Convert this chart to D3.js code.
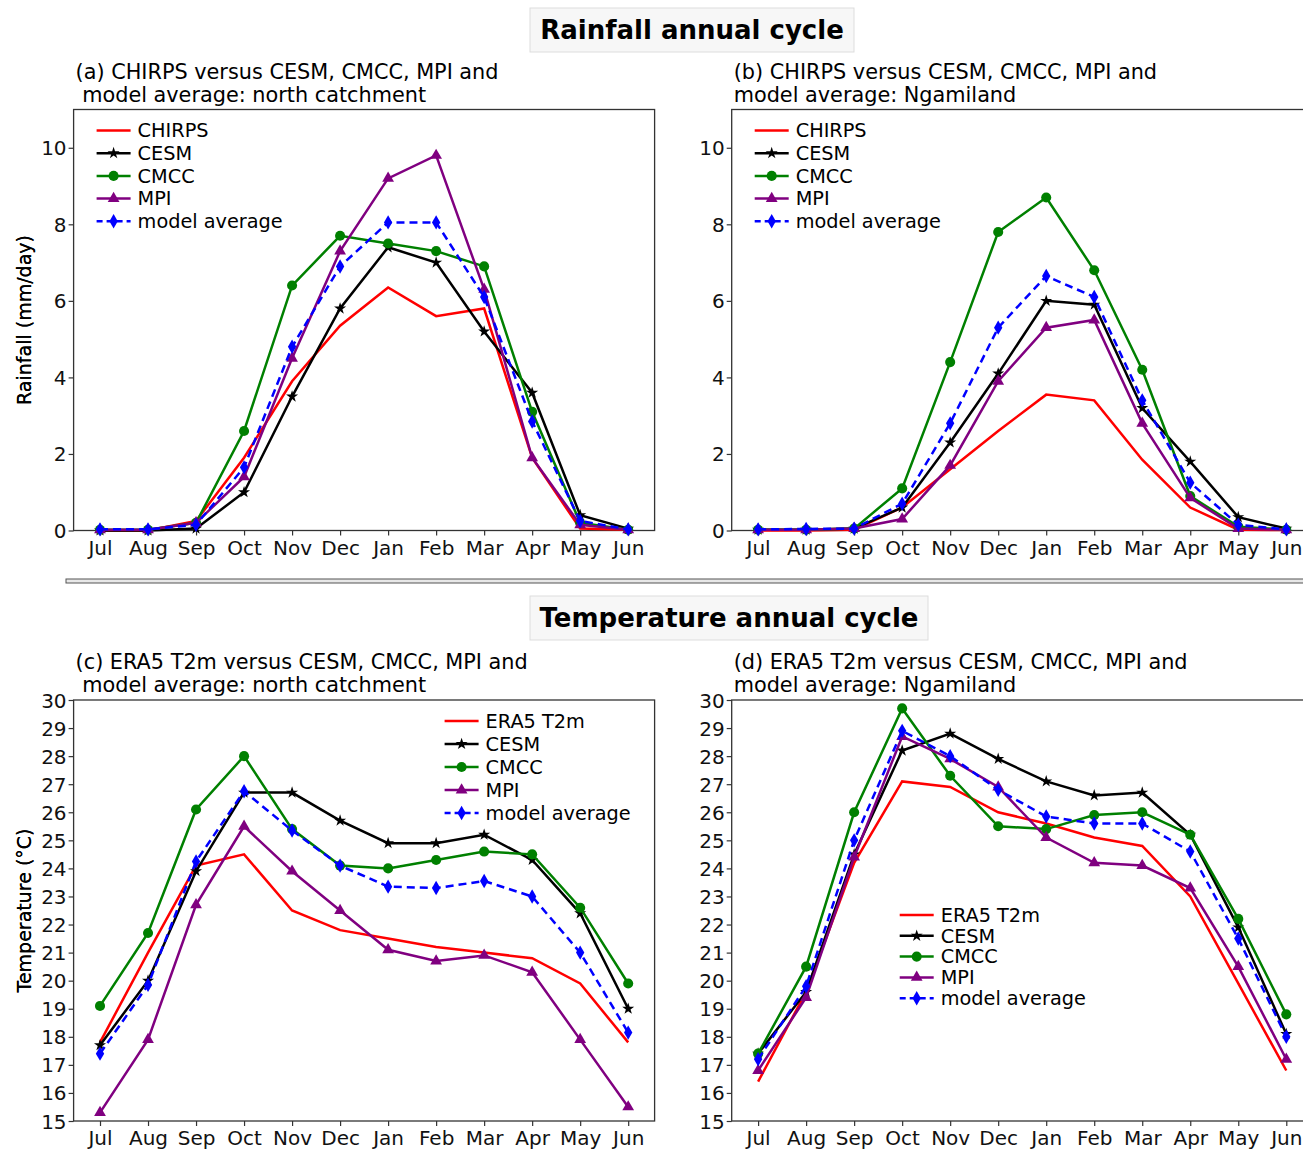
<!DOCTYPE html>
<html>
<head>
<meta charset="utf-8">
<script src="https://cdn.jsdelivr.net/npm/d3@7"></script>
<style>
  body { margin: 0; background: #fff; overflow: hidden; }
  svg { font-family: "DejaVu Sans", sans-serif; display: block; }
</style>
</head>
<body>
<div class="canvas"></div>
<script>
/////////////////////////////////
//** DATA **//

const months = ['Jul', 'Aug', 'Sep', 'Oct', 'Nov', 'Dec', 'Jan', 'Feb', 'Mar', 'Apr', 'May', 'Jun'];

// (a) rainfall, north catchment (mm/day)
const rainNorthCHIRPS = [0, 0, 0.25, 1.9, 3.9, 5.35, 6.35, 5.6, 5.8, 1.9, 0.05, 0.02];
const rainNorthCESM   = [0, 0, 0.05, 1.0, 3.5, 5.8, 7.4, 7.0, 5.2, 3.6, 0.4, 0.05];
const rainNorthCMCC   = [0.02, 0.02, 0.2, 2.6, 6.4, 7.7, 7.5, 7.3, 6.9, 3.1, 0.2, 0.02];
const rainNorthMPI    = [0.02, 0.02, 0.2, 1.4, 4.5, 7.3, 9.2, 9.8, 6.3, 1.9, 0.15, 0.02];
const rainNorthAvg    = [0.03, 0.03, 0.15, 1.65, 4.8, 6.9, 8.05, 8.05, 6.1, 2.85, 0.25, 0.03];

// (b) rainfall, Ngamiland (mm/day)
const rainNgamCHIRPS = [0, 0, 0.02, 0.6, 1.6, 2.6, 3.55, 3.4, 1.85, 0.6, 0.02, 0.01];
const rainNgamCESM   = [0.02, 0.02, 0.05, 0.6, 2.3, 4.1, 6.0, 5.9, 3.2, 1.8, 0.35, 0.05];
const rainNgamCMCC   = [0.02, 0.02, 0.05, 1.1, 4.4, 7.8, 8.7, 6.8, 4.2, 0.9, 0.1, 0.02];
const rainNgamMPI    = [0.02, 0.02, 0.05, 0.3, 1.7, 3.9, 5.3, 5.5, 2.8, 0.85, 0.05, 0.02];
const rainNgamAvg    = [0.03, 0.04, 0.05, 0.7, 2.8, 5.3, 6.65, 6.1, 3.4, 1.25, 0.15, 0.03];

// (c) temperature, north catchment (°C)
const tempNorthERA5 = [17.8, 21.0, 24.1, 24.5, 22.5, 21.8, 21.5, 21.2, 21.0, 20.8, 19.9, 17.8];
const tempNorthCESM = [17.7, 20.0, 23.9, 26.7, 26.7, 25.7, 24.9, 24.9, 25.2, 24.3, 22.4, 19.0];
const tempNorthCMCC = [19.1, 21.7, 26.1, 28.0, 25.4, 24.1, 24.0, 24.3, 24.6, 24.5, 22.6, 19.9];
const tempNorthMPI  = [15.3, 17.9, 22.7, 25.5, 23.9, 22.5, 21.1, 20.7, 20.9, 20.3, 17.9, 15.5];
const tempNorthAvg  = [17.4, 19.85, 24.25, 26.75, 25.35, 24.1, 23.35, 23.3, 23.55, 23.0, 21.0, 18.15];

// (d) temperature, Ngamiland (°C)
const tempNgamERA5 = [16.4, 19.6, 24.2, 27.1, 26.9, 26.0, 25.6, 25.1, 24.8, 23.0, 19.9, 16.8];
const tempNgamCESM = [17.4, 19.6, 24.5, 28.2, 28.8, 27.9, 27.1, 26.6, 26.7, 25.2, 21.9, 18.1];
const tempNgamCMCC = [17.4, 20.5, 26.0, 29.7, 27.3, 25.5, 25.4, 25.9, 26.0, 25.2, 22.2, 18.8];
const tempNgamMPI  = [16.8, 19.4, 24.4, 28.7, 27.9, 26.9, 25.1, 24.2, 24.1, 23.3, 20.5, 17.2];
const tempNgamAvg  = [17.2, 19.8, 25.0, 28.9, 28.0, 26.8, 25.85, 25.6, 25.6, 24.6, 21.5, 18.0];

const rainTicks = [0, 2, 4, 6, 8, 10];
const tempTicks = d3.range(15, 31, 1);

/////////////////////////////////
//** STYLES **//

const styles = {
    obs:  { colour: '#ff0000', marker: null,             size: 0,  dash: null },
    CESM: { colour: '#000000', marker: d3.symbolStar,    size: 45, dash: null },
    CMCC: { colour: '#008000', marker: d3.symbolCircle,  size: 80, dash: null },
    MPI:  { colour: '#800080', marker: d3.symbolTriangle,size: 60, dash: null },
    avg:  { colour: '#0000ff', marker: d3.symbolDiamond, size: 60, dash: '8,5' }
};

/////////////////////////////////
//** SVG CONTAINER **//

const svg = d3.select('.canvas')
    .append('svg')
    .attr('width', 1303)
    .attr('height', 1150);

// section headers with light boxes
const header = (text, cx, cy, w) => {
    svg.append('rect')
        .attr('x', cx - w / 2).attr('y', cy - 22)
        .attr('width', w).attr('height', 44)
        .attr('fill', '#f7f7f7')
        .attr('stroke', '#dddddd');
    svg.append('text')
        .attr('x', cx).attr('y', cy + 9)
        .attr('text-anchor', 'middle')
        .attr('font-size', 26)
        .attr('font-weight', 'bold')
        .text(text);
};

header('Rainfall annual cycle', 692, 30, 324);
header('Temperature annual cycle', 729, 618, 398);

// separator between rows
svg.append('rect')
    .attr('x', 66).attr('y', 579)
    .attr('width', 1250).attr('height', 4)
    .attr('fill', '#e8e8e8')
    .attr('stroke', '#555')
    .attr('stroke-width', 1);

/////////////////////////////////
//** PANEL **//

const drawPanel = (p) => {
    const w = 581, h = 421;
    const g = svg.append('g')
        .attr('transform', `translate(${p.left}, ${p.top})`);

    const x = d3.scaleLinear().domain([-0.55, 11.55]).range([0, w]);
    const y = d3.scaleLinear().domain(p.ydomain).range([h, 0]);

    // title lines
    svg.append('text')
        .attr('x', p.left + 2).attr('y', p.top - 31)
        .attr('font-size', 20.8)
        .text(p.title[0]);
    svg.append('text')
        .attr('x', p.left + 2).attr('y', p.top - 8)
        .attr('font-size', 20.8)
        .attr('xml:space', 'preserve')
        .text(p.title[1]);

    // axes
    const xAxis = d3.axisBottom(x)
        .tickValues(d3.range(12))
        .tickFormat(i => months[i])
        .tickSizeOuter(0)
        .tickSize(5);
    const yAxis = d3.axisLeft(y)
        .tickValues(p.ticks)
        .tickSizeOuter(0)
        .tickSize(5);

    const gx = g.append('g')
        .attr('transform', `translate(0, ${h})`)
        .call(xAxis);
    const gy = g.append('g').call(yAxis);

    [gx, gy].forEach(a => {
        a.select('.domain').remove();
        a.selectAll('line').attr('stroke', '#333').attr('stroke-width', 1.2);
        a.selectAll('text')
            .attr('font-size', 20)
            .attr('font-family', '"DejaVu Sans", sans-serif')
            .attr('fill', '#111');
    });
    gx.selectAll('text').attr('dy', '0.8em');
    gy.selectAll('text').attr('dy', '0.35em').attr('x', -7);

    // frame
    g.append('rect')
        .attr('width', w).attr('height', h)
        .attr('fill', 'none')
        .attr('stroke', '#333')
        .attr('stroke-width', 1.3);

    // y label
    g.append('text')
        .attr('transform', `translate(${-p.left + 24}, ${h / 2}) rotate(-90)`)
        .attr('text-anchor', 'middle')
        .attr('dy', '0.35em')
        .attr('font-size', 19)
        .text(p.ylabel);

    const line = d3.line()
        .x((d, i) => x(i))
        .y(d => y(d));

    // series lines and markers
    p.series.forEach(s => {
        const st = styles[s.key];
        g.append('path')
            .datum(s.values)
            .attr('d', line)
            .attr('fill', 'none')
            .attr('stroke', st.colour)
            .attr('stroke-width', 2.5)
            .attr('stroke-dasharray', st.dash);

        if (st.marker) {
            g.selectAll(null)
                .data(s.values)
                .enter()
                .append('path')
                .attr('d', d3.symbol(st.marker, st.size))
                .attr('transform', (d, i) => `translate(${x(i)}, ${y(d)})`)
                .attr('fill', st.colour);
        }
    });

    // legend
    const lg = g.append('g')
        .attr('transform', `translate(${p.legend.x}, ${p.legend.y})`);
    p.series.forEach((s, i) => {
        const st = styles[s.key];
        const row = lg.append('g')
            .attr('transform', `translate(0, ${i * p.legend.step})`);
        row.append('line')
            .attr('x1', 0).attr('x2', 34)
            .attr('stroke', st.colour)
            .attr('stroke-width', 2.5)
            .attr('stroke-dasharray', st.dash ? '6,4' : null);
        if (st.marker) {
            row.append('path')
                .attr('d', d3.symbol(st.marker, st.size))
                .attr('transform', 'translate(17, 0)')
                .attr('fill', st.colour);
        }
        row.append('text')
            .attr('x', 41)
            .attr('dy', '0.35em')
            .attr('font-size', 19.3)
            .text(s.label);
    });
};

drawPanel({
    left: 73.6, top: 109.5, ydomain: [0, 11], ticks: rainTicks,
    title: ['(a) CHIRPS versus CESM, CMCC, MPI and', ' model average: north catchment'],
    ylabel: 'Rainfall (mm/day)',
    legend: { x: 23, y: 21, step: 22.7 },
    series: [
        { key: 'obs',  label: 'CHIRPS', values: rainNorthCHIRPS },
        { key: 'CESM', label: 'CESM', values: rainNorthCESM },
        { key: 'CMCC', label: 'CMCC', values: rainNorthCMCC },
        { key: 'MPI',  label: 'MPI', values: rainNorthMPI },
        { key: 'avg',  label: 'model average', values: rainNorthAvg }
    ]
});

drawPanel({
    left: 731.7, top: 109.5, ydomain: [0, 11], ticks: rainTicks,
    title: ['(b) CHIRPS versus CESM, CMCC, MPI and', 'model average: Ngamiland'],
    ylabel: 'Rainfall (mm/day)',
    legend: { x: 23, y: 21, step: 22.7 },
    series: [
        { key: 'obs',  label: 'CHIRPS', values: rainNgamCHIRPS },
        { key: 'CESM', label: 'CESM', values: rainNgamCESM },
        { key: 'CMCC', label: 'CMCC', values: rainNgamCMCC },
        { key: 'MPI',  label: 'MPI', values: rainNgamMPI },
        { key: 'avg',  label: 'model average', values: rainNgamAvg }
    ]
});

drawPanel({
    left: 73.6, top: 700, ydomain: [15, 30], ticks: tempTicks,
    title: ['(c) ERA5 T2m versus CESM, CMCC, MPI and', ' model average: north catchment'],
    ylabel: 'Temperature (°C)',
    legend: { x: 371, y: 21, step: 23 },
    series: [
        { key: 'obs',  label: 'ERA5 T2m', values: tempNorthERA5 },
        { key: 'CESM', label: 'CESM', values: tempNorthCESM },
        { key: 'CMCC', label: 'CMCC', values: tempNorthCMCC },
        { key: 'MPI',  label: 'MPI', values: tempNorthMPI },
        { key: 'avg',  label: 'model average', values: tempNorthAvg }
    ]
});

drawPanel({
    left: 731.7, top: 700, ydomain: [15, 30], ticks: tempTicks,
    title: ['(d) ERA5 T2m versus CESM, CMCC, MPI and', 'model average: Ngamiland'],
    ylabel: 'Temperature (°C)',
    legend: { x: 168, y: 215, step: 20.8 },
    series: [
        { key: 'obs',  label: 'ERA5 T2m', values: tempNgamERA5 },
        { key: 'CESM', label: 'CESM', values: tempNgamCESM },
        { key: 'CMCC', label: 'CMCC', values: tempNgamCMCC },
        { key: 'MPI',  label: 'MPI', values: tempNgamMPI },
        { key: 'avg',  label: 'model average', values: tempNgamAvg }
    ]
});
</script>
</body>
</html>
